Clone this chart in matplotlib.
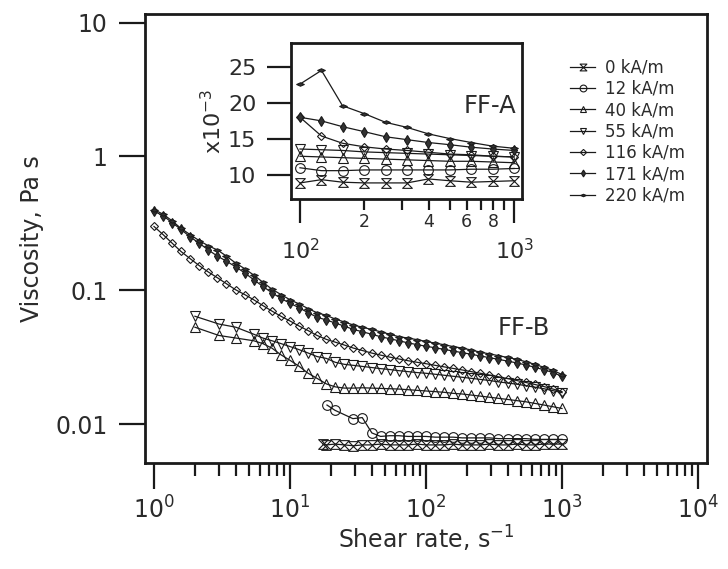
import matplotlib
matplotlib.use("Agg")
import matplotlib.pyplot as plt
import numpy as np
from matplotlib.path import Path
from matplotlib.ticker import FixedLocator, NullLocator, NullFormatter

# ---- FF-B (main plot) ----
# shear rate grid of the sweep, s^-1
rate_hi = [1.0, 1.17, 1.36, 1.58, 1.85, 2.15, 2.51, 2.93, 3.41, 3.98,
           4.64, 5.41, 6.31, 7.36, 8.58, 10.0, 11.7, 13.6, 15.8, 18.5,
           21.5, 25.1, 29.3, 34.1, 39.8, 46.4, 54.1, 63.1, 73.6, 85.8,
           100, 117, 136, 158, 185, 215, 251, 293, 341, 398,
           464, 541, 631, 736, 858, 1000]
rate_mid = [2.0, 3.0, 4.0, 5.41, 6.31, 7.36, 8.58, 10.0, 11.7, 13.6,
            15.8, 18.5, 21.5, 25.1, 29.3, 34.1, 39.8, 46.4, 54.1, 63.1,
            73.6, 85.8, 100, 117, 136, 158, 185, 215, 251, 293,
            341, 398, 464, 541, 631, 736, 858, 1000]
rate_12 = [18.7, 21.4, 29.0, 34.0, 40.0, 46.4, 54.1, 63.1, 73.6, 85.8,
           100, 117, 136, 158, 185, 215, 251, 293, 341, 398,
           464, 541, 631, 736, 858, 1000]
rate_0 = [17.5, 18.5, 21.5, 25.1, 29.3, 34.1, 39.8, 46.4, 54.1, 63.1,
          73.6, 85.8, 100, 117, 136, 158, 185, 215, 251, 293,
          341, 398, 464, 541, 631, 736, 858, 1000]

eta_220 = [0.40, 0.37, 0.33, 0.29, 0.26, 0.235, 0.215, 0.20, 0.18, 0.16,
           0.145, 0.13, 0.115, 0.102, 0.093, 0.085, 0.079, 0.073, 0.068, 0.065,
           0.061, 0.058, 0.055, 0.053, 0.051, 0.049, 0.047, 0.045, 0.044, 0.0428,
           0.0415, 0.0403, 0.0392, 0.038, 0.037, 0.0358, 0.0345, 0.0335, 0.0325, 0.0315,
           0.0305, 0.0293, 0.028, 0.0266, 0.0252, 0.0235]
eta_171 = [0.39, 0.36, 0.32, 0.285, 0.25, 0.225, 0.20, 0.18, 0.165, 0.15,
           0.135, 0.12, 0.107, 0.096, 0.087, 0.080, 0.074, 0.068, 0.063, 0.060,
           0.057, 0.054, 0.051, 0.049, 0.047, 0.045, 0.0435, 0.042, 0.0405, 0.0393,
           0.0382, 0.0372, 0.0362, 0.0352, 0.0342, 0.0333, 0.0323, 0.0314, 0.0305, 0.0296,
           0.0287, 0.0277, 0.0266, 0.0255, 0.0243, 0.0228]
eta_116 = [0.30, 0.26, 0.225, 0.195, 0.172, 0.153, 0.137, 0.124, 0.112, 0.101,
           0.093, 0.085, 0.077, 0.070, 0.064, 0.059, 0.054, 0.050, 0.046, 0.043,
           0.041, 0.039, 0.037, 0.0355, 0.034, 0.0328, 0.0317, 0.0307, 0.0298, 0.029,
           0.0283, 0.0275, 0.0268, 0.0261, 0.0254, 0.0247, 0.024, 0.0233, 0.0226, 0.0219,
           0.0212, 0.0205, 0.0198, 0.0191, 0.0183, 0.0175]
eta_55 = [0.064, 0.056, 0.053, 0.047, 0.044, 0.042, 0.040, 0.038, 0.036, 0.034,
          0.032, 0.031, 0.029, 0.028, 0.0275, 0.027, 0.0265, 0.026, 0.0256, 0.0251,
          0.0247, 0.0243, 0.024, 0.0236, 0.0232, 0.0228, 0.0224, 0.022, 0.0216, 0.0212,
          0.0207, 0.0203, 0.0199, 0.0194, 0.0189, 0.0184, 0.0178, 0.0172]
eta_40 = [0.053, 0.046, 0.044, 0.042, 0.040, 0.037, 0.033, 0.030, 0.027, 0.024,
          0.022, 0.020, 0.019, 0.0186, 0.0186, 0.0187, 0.0186, 0.0185, 0.0184, 0.0183,
          0.0181, 0.0179, 0.0177, 0.0175, 0.0173, 0.017, 0.0168, 0.0165, 0.0162, 0.0159,
          0.0156, 0.0153, 0.015, 0.0147, 0.0143, 0.0139, 0.0135, 0.0131]
eta_12 = [0.0139, 0.0127, 0.0110, 0.0112, 0.0086, 0.0081, 0.0082, 0.0082, 0.0081, 0.0081,
          0.0081, 0.0080, 0.0080, 0.0080, 0.0079, 0.0079, 0.0079, 0.0079, 0.0078, 0.0078,
          0.0078, 0.0078, 0.0077, 0.0077, 0.0077, 0.0077]
eta_0 = [0.0071, 0.0070, 0.0071, 0.0070, 0.0069, 0.0070, 0.0070, 0.0071, 0.0070, 0.0070,
         0.0070, 0.0071, 0.0070, 0.0070, 0.0070, 0.0071, 0.0070, 0.0070, 0.0070, 0.0071,
         0.0070, 0.0070, 0.0071, 0.0070, 0.0070, 0.0071, 0.0071, 0.0071]

# ---- FF-A (inset), viscosity in 1e-3 Pa s ----
rate_a = [100, 126, 158, 200, 251, 316, 398, 501, 631, 794, 1000]
a_220 = [22.6, 24.5, 19.6, 18.5, 17.3, 16.6, 15.7, 15.05, 14.5, 14.0, 13.7]
a_171 = [18.0, 17.5, 16.7, 16.0, 15.3, 14.9, 14.5, 14.2, 13.85, 13.6, 13.4]
a_116 = [18.0, 15.4, 14.4, 13.9, 13.6, 13.4, 13.15, 12.9, 12.8, 12.6, 12.5]
a_55 = [13.6, 13.5, 13.4, 13.2, 13.1, 13.0, 12.9, 12.8, 12.7, 12.6, 12.5]
a_40 = [12.6, 12.5, 12.4, 12.3, 12.2, 12.1, 12.0, 11.9, 11.9, 11.8, 11.7]
a_12 = [11.0, 10.6, 10.6, 10.7, 10.7, 10.7, 10.7, 10.7, 10.8, 10.8, 10.9]
a_0 = [8.9, 9.35, 9.0, 8.9, 8.9, 8.9, 9.45, 9.2, 9.0, 9.1, 9.2]

labels = ["0 kA/m", "12 kA/m", "40 kA/m", "55 kA/m", "116 kA/m", "171 kA/m", "220 kA/m"]

hourglass = Path([(-1, 1), (1, 1), (-1, -1), (1, -1), (-1, 1)],
                 [Path.MOVETO, Path.LINETO, Path.LINETO, Path.LINETO, Path.CLOSEPOLY])
flat_diamond = Path([(-1, 0), (0, 0.45), (1, 0), (0, -0.45), (-1, 0)],
                    [Path.MOVETO, Path.LINETO, Path.LINETO, Path.LINETO, Path.CLOSEPOLY])

# marker, size, face colour per field
styles = [
    (hourglass, 7, "none"),
    ("o", 7, "none"),
    ("^", 7, "none"),
    ("v", 7, "none"),
    ("D", 4.5, "none"),
    ("d", 5, "#333333"),
    (flat_diamond, 5.5, "#333333"),
]

ink = "#1a1a1a"
txt = "#2b2b2b"
plt.rcParams["font.family"] = "DejaVu Sans"
plt.rcParams["mathtext.fontset"] = "dejavusans"
plt.rcParams["text.color"] = txt
plt.rcParams["axes.labelcolor"] = txt
plt.rcParams["xtick.labelcolor"] = txt
plt.rcParams["ytick.labelcolor"] = txt
plt.rcParams["xtick.color"] = ink
plt.rcParams["ytick.color"] = ink

fig = plt.figure(figsize=(7.28, 5.69), dpi=100)
ax = fig.add_axes([145 / 728, 1 - 463 / 569, 562 / 728, 449 / 569])

main_x = [rate_0, rate_12, rate_mid, rate_mid, rate_hi, rate_hi, rate_hi]
main_y = [eta_0, eta_12, eta_40, eta_55, eta_116, eta_171, eta_220]
handles = []
for xs, ys, (mk, ms, fc), lab in zip(main_x, main_y, styles, labels):
    h, = ax.plot(xs, ys, color=ink, lw=0.9, marker=mk, ms=ms, mfc=fc,
                 mec=ink, mew=0.8, label=lab)
    handles.append(h)

ax.set_xscale("log")
ax.set_yscale("log")
ax.set_xlim(10 ** -0.066, 10 ** 4.066)
ax.set_ylim(10 ** -2.29, 10 ** 1.064)
ax.set_xticks([1, 10, 100, 1000, 10000])
ax.set_xticklabels(["$10^{0}$", "$10^{1}$", "$10^{2}$", "$10^{3}$", "$10^{4}$"])
ax.xaxis.set_minor_locator(FixedLocator(
    [m * 10 ** e for e in range(4) for m in range(2, 10)]))
ax.xaxis.set_minor_formatter(NullFormatter())
ax.set_yticks([0.01, 0.1, 1, 10])
ax.set_yticklabels(["0.01", "0.1", "1", "10"])
ax.yaxis.set_minor_locator(NullLocator())
ax.tick_params(which="major", direction="out", length=19, width=1.6, labelsize=17, pad=5)
ax.tick_params(which="minor", direction="out", length=9, width=1.6)
ax.tick_params(axis="y", pad=8)
for sp in ax.spines.values():
    sp.set_linewidth(2)
    sp.set_color(ink)
ax.set_xlabel("Shear rate, s$^{-1}$", fontsize=17, labelpad=0)
ax.set_ylabel("Viscosity, Pa s", fontsize=17, labelpad=8)
ax.text(520, 0.052, "FF-B", fontsize=17.5, ha="center", va="center")

# ---- inset ----
ins = fig.add_axes([291 / 728, 1 - 199 / 569, 231 / 728, 156 / 569])
ins_y = [a_0, a_12, a_40, a_55, a_116, a_171, a_220]
for ys, (mk, ms, fc) in zip(ins_y, styles):
    ins.plot(rate_a, ys, color=ink, lw=0.9, marker=mk, ms=ms, mfc=fc, mec=ink, mew=0.8)
ins.set_xscale("log")
ins.set_xlim(10 ** 1.958, 10 ** 3.037)
ins.set_ylim(6.67, 28.3)
ins.set_xticks([100, 1000])
ins.set_xticklabels(["$10^{2}$", "$10^{3}$"])
ins.xaxis.set_minor_locator(FixedLocator([m * 100 for m in range(2, 10)]))
ins.xaxis.set_minor_formatter(plt.FuncFormatter(
    lambda v, p: str(int(round(v / 100))) if int(round(v / 100)) in (2, 4, 6, 8) else ""))
ins.set_yticks([10, 15, 20, 25])
ins.tick_params(which="major", direction="out", length=17, width=1.6, labelsize=16)
ins.tick_params(axis="x", which="major", pad=11)
ins.tick_params(which="minor", direction="out", length=8, width=1.6, labelsize=12.5, pad=2)
ins.tick_params(axis="y", pad=8)
for sp in ins.spines.values():
    sp.set_linewidth(2)
    sp.set_color(ink)
ins.set_ylabel("x10$^{-3}$", fontsize=16, labelpad=2)
ins.text(0.975, 0.595, "FF-A", transform=ins.transAxes, fontsize=17.5, ha="right", va="center")

fig.legend(handles=handles, loc="upper left", bbox_to_anchor=(562 / 728, 1 - 50 / 569),
           frameon=False, fontsize=12, handlelength=1.5, handletextpad=0.6,
           labelspacing=0.2, borderpad=0, markerscale=0.7)

fig.savefig("out.png", dpi=100)
